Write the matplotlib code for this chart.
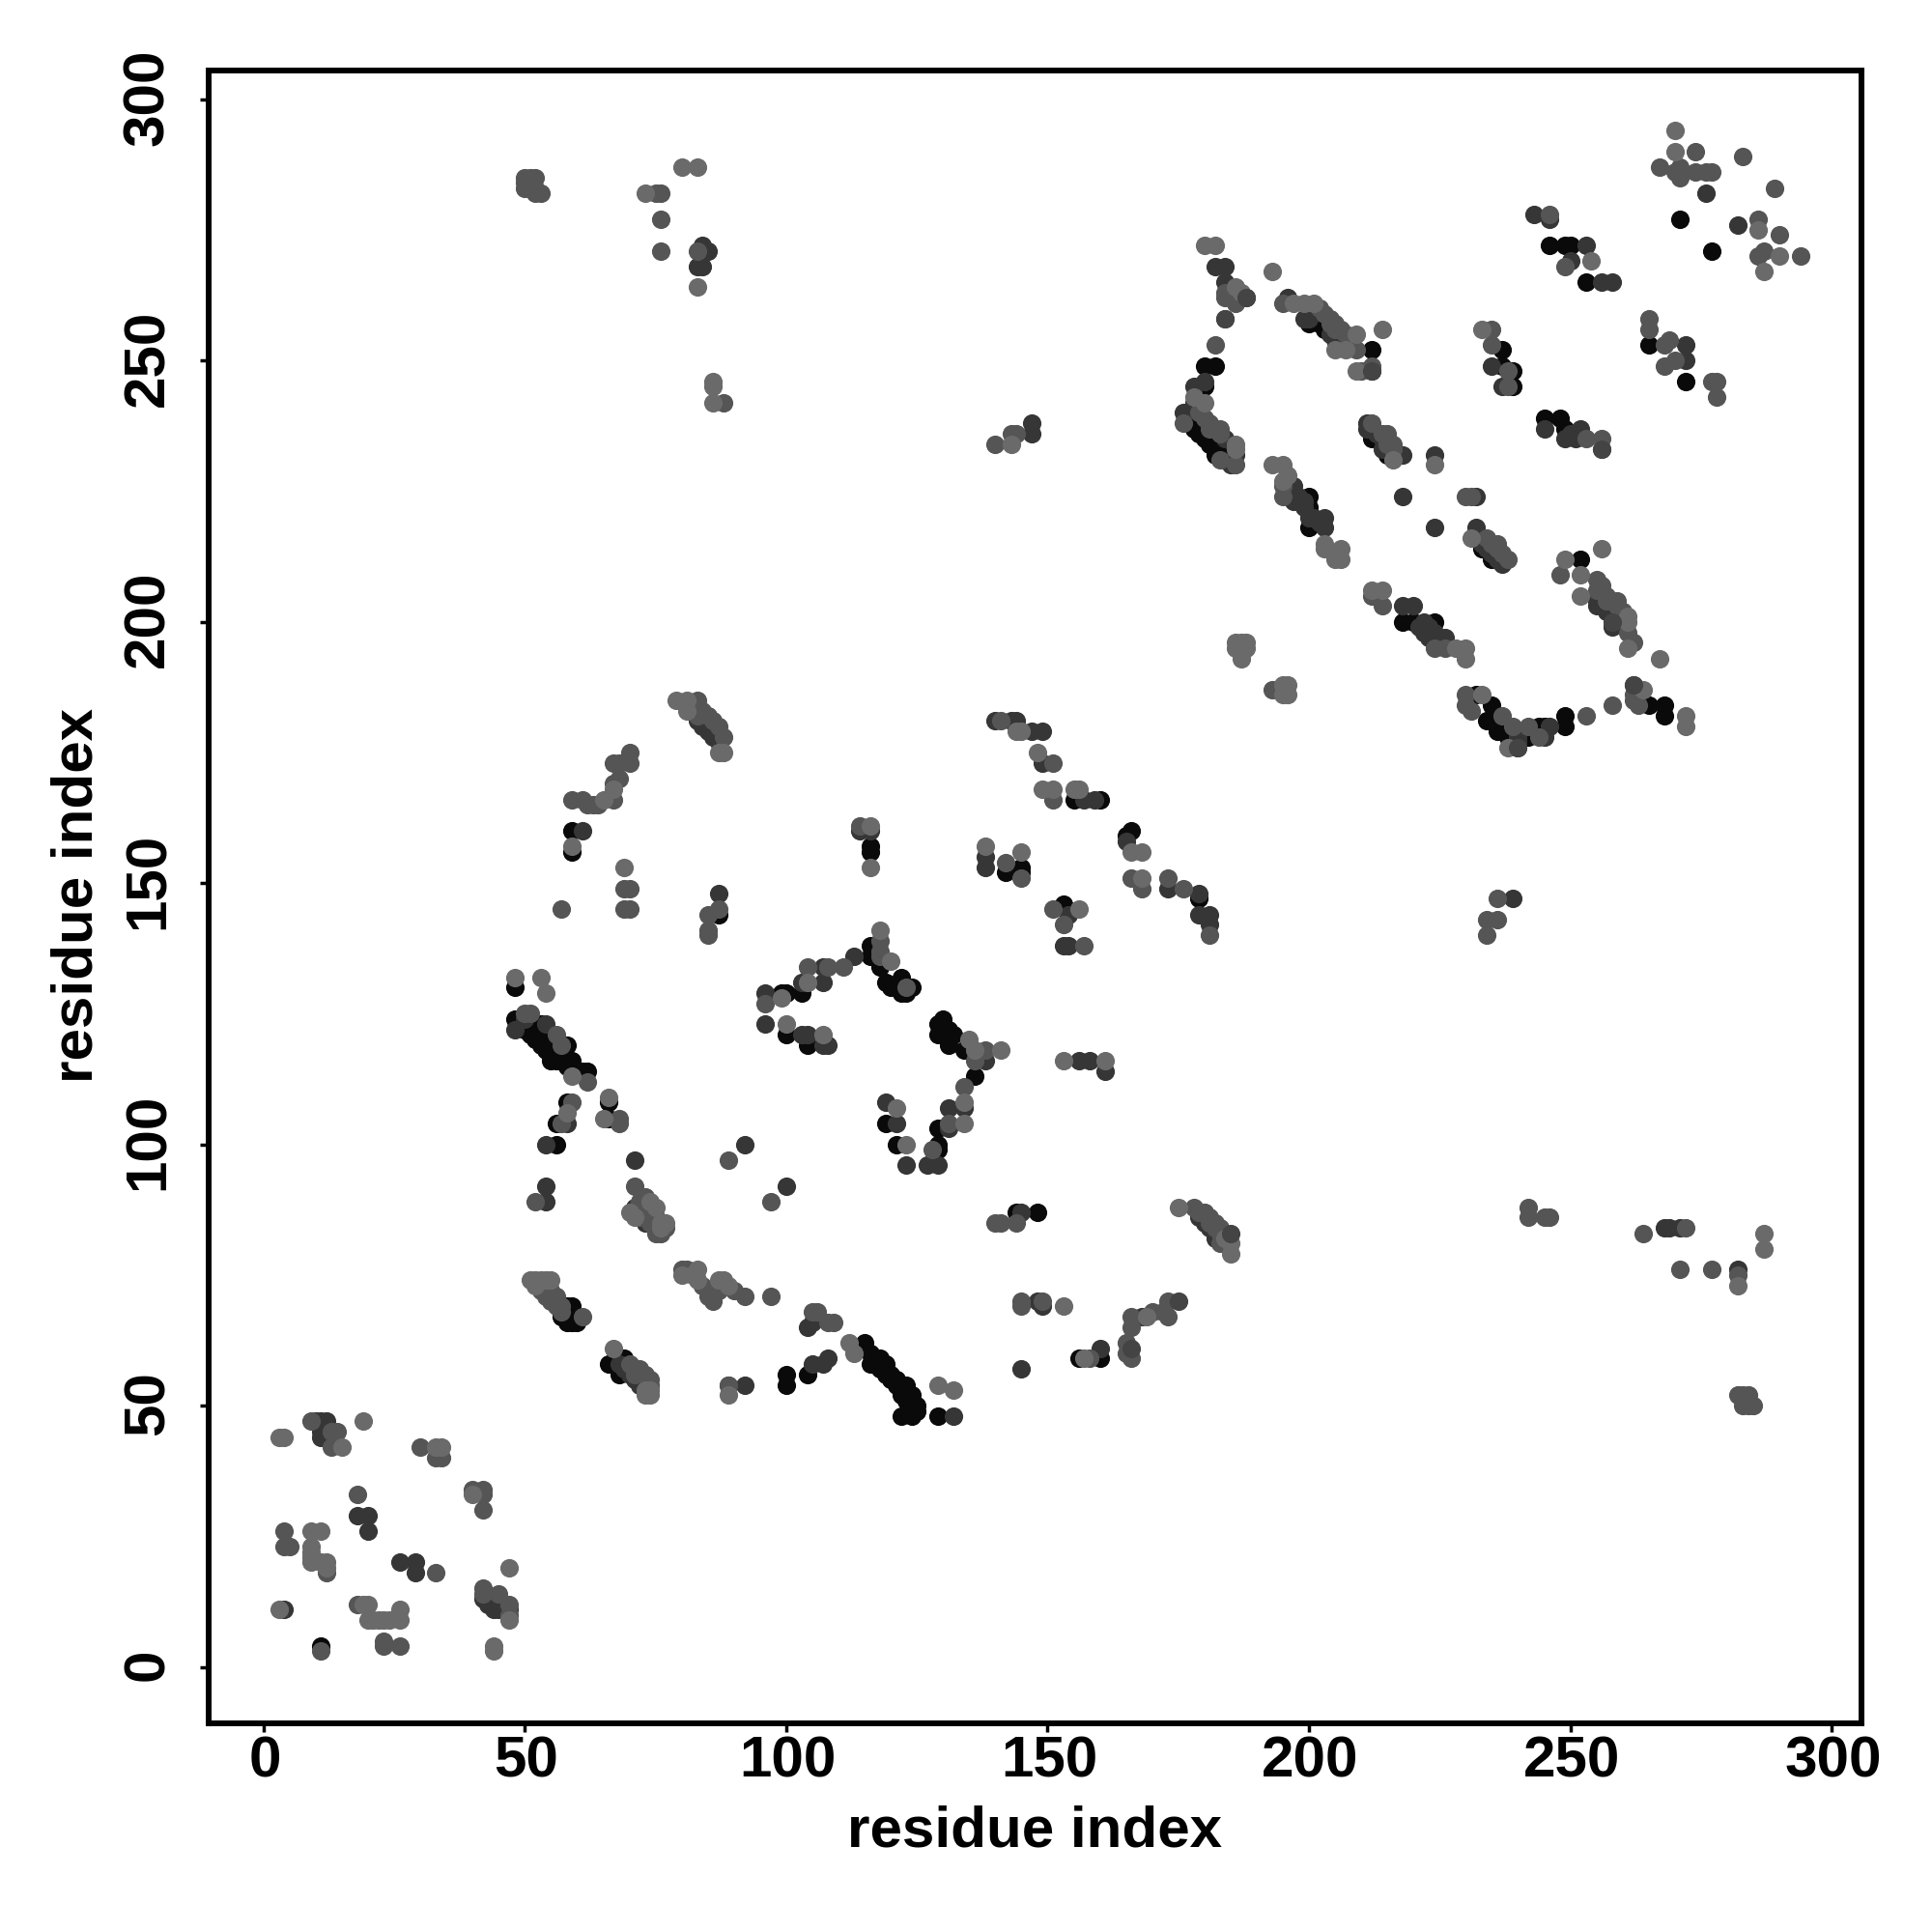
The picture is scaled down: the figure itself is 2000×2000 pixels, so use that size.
import numpy as np
import matplotlib
matplotlib.use("Agg")
import matplotlib.pyplot as plt
from matplotlib.transforms import ScaledTranslation

plt.rcParams['font.family'] = ['Liberation Sans', 'DejaVu Sans']

# contacts, one list per grey level
contacts_black = [
    (11,4),(66,58),(69,59),(68,56),(58,69),(59,69),(57,67),(58,66),(59,66),(60,66),
    (115,62),(116,60),(116,58),(117,59),(118,57),(118,59),(119,58),(119,56),(120,56),(120,55),(121,55),(121,54),(122,54),(122,53),(122,52),(123,54),(123,51),(124,52),(124,50),(125,50),(125,49),(122,48),(124,48),
    (129,48),(100,56),(100,54),(104,56),(48,130),(59,160),(59,156),(87,144),(48,124),(49,124),(50,122),(51,121),(52,122),(52,120),(53,123),(53,120),(53,119),(54,121),(54,118),(55,120),(55,117),(55,116),(56,119),(56,116),
    (57,118),(57,116),(58,115),(58,119),(59,116),(61,114),(62,114),(58,108),(56,104),(56,100),(66,108),(66,105),(99,129),(100,129),(103,129),
    (116,138),(116,136),(118,134),(119,131),(122,132),(120,130),(122,129),(124,130),(123,129),(100,121),(104,119),
    (130,124),(129,123),(129,121),(131,122),(131,119),(132,121),(134,118),(136,113),(129,103),(129,100),(129,99),(119,104),(121,100),
    (116,157),(116,156),(142,152),(145,152),(145,153),(180,249),(182,249),(180,245),(177,238),(178,238),(178,237),(179,236),(180,235),(181,234),(182,233),(182,232),(183,232),(184,231),
    (200,257),(201,258),(202,259),(202,257),(203,256),(212,252),(237,252),(237,249),(239,248),(239,245),(246,272),(249,272),(250,272),(253,265),(265,253),
    (245,239),(248,239),(249,237),(212,235),(215,232),(233,214),(235,212),(200,224),(200,222),(200,221),(200,218),(218,200),(220,200),(224,200),
    (235,184),(234,181),(236,179),(238,178),(242,178),(244,180),(249,182),(249,180),(252,212),(271,277),(277,271),(272,246),(155,166),(160,166),(165,159),(166,160),
    (179,147),(153,146),(148,87),(144,87),(156,59),(160,59),(265,184),(268,184),(268,182),(232,186),(245,180),
]
contacts_dark = [
    (10,47),(11,47),(12,47),(11,45),(11,44),(12,44),(18,29),(20,29),(20,26),(26,20),(29,20),(29,18),(42,13),(43,12),(44,13),(44,11),(45,11),(47,11),
    (4,11),(54,92),(54,89),(71,97),(71,88),(73,85),(72,55),(73,54),(68,58),(69,57),(70,56),(71,55),(72,54),(89,54),(92,54),(105,58),(104,65),(105,66),(107,58),(108,59),(132,48),(145,57),
    (160,61),(54,123),(61,160),(87,148),(48,122),(50,124),(58,104),(54,100),(92,100),(100,92),(96,129),(103,131),(107,131),
    (107,134),(113,136),(96,123),(104,121),(103,121),(108,119),(107,119),(138,116),(131,107),(134,107),(131,103),(129,96),(127,96),(123,96),
    (83,181),(84,180),(85,179),(86,178),(87,177),
    (119,108),(121,104),(114,160),(116,160),(138,155),(138,153),(140,181),(143,181),(144,181),(182,268),(184,268),(184,265),(178,245),
    (180,246),(178,242),(176,240),(184,235),(186,232),(185,230),(188,262),(196,262),(199,258),(200,258),(204,255),(205,254),(206,254),(212,248),
    (235,249),(237,245),(250,269),(253,272),(256,265),(258,265),(245,237),(249,235),(252,237),(251,235),(250,236),(211,238),(211,237),(212,237),(213,236),(214,235),
    (214,233),(218,232),(224,232),(218,224),(232,224),(224,218),(232,218),(232,216),(233,215),(234,214),(235,213),(236,212),(237,211),(197,226),(197,223),(198,224),(199,223),(199,222),(200,220),(201,220),(202,219),
    (203,220),(203,218),(218,203),(220,203),(221,199),(222,200),(222,198),(223,199),(223,197),(224,198),(224,196),(225,197),(225,196),(226,197),(240,178),(240,176),(240,177),(245,178),(246,180),(262,188),
    (255,204),(256,203),(257,202),(258,201),(259,200),(258,199),(255,203),(258,200),
    (276,282),(282,276),(243,278),(246,277),(272,253),(272,250),(84,272),(83,268),(84,268),(85,271),(147,236),(147,238),
    (147,179),(149,179),(149,173),(157,166),(159,166),(165,158),(173,149),(179,148),(179,144),(181,144),(181,142),(154,144),(153,138),(154,138),
    (156,116),(158,116),(161,114),(239,147),(268,84),(269,84),(271,84),(282,76),(145,87),(182,82),(179,86),(180,85),(181,84),(182,83),(183,82),(149,69),(148,70),(168,67),
]
contacts_mid = [
    (9,47),(14,45),(13,45),(13,42),(30,42),(33,40),(34,40),(18,33),(42,30),(40,34),(42,34),(42,33),(4,26),(4,23),(5,23),(12,18),(33,18),
    (42,15),(42,14),(45,14),(47,12),(47,10),(18,12),(23,5),(23,4),(26,4),(11,3),(52,89),(71,92),(73,90),(72,86),(73,88),(73,87),(74,86),(74,85),(75,85),(75,84),(72,87),(72,89),(74,87),(75,86),
    (75,83),(76,83),(77,84),(53,73),(54,72),(55,71),(55,70),(56,69),(57,69),(57,68),(53,72),(54,71),(55,72),(56,71),(56,70),(61,67),(70,58),(71,56),(73,56),(74,54),(71,57),(72,57),(74,55),(89,97),(97,89),
    (80,76),(81,76),(84,73),(85,72),(85,71),(86,70),(87,72),(90,72),(92,71),(105,68),(106,68),(108,66),(109,66),(97,71),(89,54),
    (83,185),(83,182),(84,183),(85,182),(86,181),(87,180),(88,178),(70,175),(70,173),(67,173),(68,173),(68,170),(67,169),(67,166),(59,166),
    (61,166),(62,165),(63,165),(64,165),(69,149),(70,149),(69,145),(70,145),(57,145),(87,145),(85,144),(85,141),(85,140),(50,125),(51,125),
    (56,121),(57,119),(62,112),(59,108),(57,104),(68,105),(68,104),(96,127),(104,134),(108,134),(111,134),(118,139),(118,137),(118,136),
    (123,130),(138,118),(136,116),(134,111),(131,104),(128,99),(114,161),(142,154),(141,181),(184,263),(184,262),(186,261),(184,258),(182,253),
    (176,238),(179,240),(180,239),(181,238),(181,237),(182,237),(183,237),(183,236),(183,231),(186,230),(195,261),(202,260),(203,259),(204,258),(204,257),(205,257),(205,256),(206,256),(207,255),(208,254),(209,252),(210,248),(212,249),
    (235,256),(235,253),(238,248),(238,245),(249,268),(253,235),(256,235),(212,238),(214,236),(215,236),(215,234),(216,234),(216,233),(195,226),(195,224),
    (230,224),(231,224),(234,216),(235,215),(236,215),(236,214),(237,213),(238,212),(214,203),(212,205),(224,195),(226,195),(193,187),(230,186),(230,184),(231,183),
    (237,182),(239,180),(242,180),(244,178),(253,182),(258,184),(262,185),(263,184),(262,186),(248,209),(255,208),(256,207),(255,206),(257,205),(257,204),(258,204),(259,204),(259,203),(260,202),(261,198),(262,196),(267,287),
    (274,290),(271,287),(271,285),(270,286),(274,286),(276,286),(277,286),(283,289),(289,283),(286,277),(290,274),(286,270),(287,271),(294,270),
    (246,278),(265,258),(265,256),(268,249),(269,254),(268,253),(270,250),(277,246),(278,246),(278,243),
    (50,285),(51,285),(52,285),(50,284),(51,284),(52,283),(50,283),(53,282),(52,282),(75,282),(76,282),(76,277),(76,271),(83,271),(88,242),
    (140,234),(143,236),(144,236),(151,173),(151,166),(168,149),(166,151),(173,151),(176,149),(181,140),(145,151),(151,145),(153,142),(157,138),
    (234,140),(234,143),(236,143),(236,147),(242,88),(242,86),(245,86),(246,86),(264,83),(272,84),(271,76),(277,76),(282,75),
    (282,52),(283,52),(284,52),(283,50),(284,50),(285,50),(284,51),(140,85),(141,85),(144,85),(178,88),(180,87),(181,86),(182,85),(183,84),(184,83),(179,87),(181,85),(182,84),(183,83),(183,81),
    (158,59),(165,62),(165,60),(166,59),(166,65),(166,67),(145,70),(145,69),(149,70),(170,68),(172,68),(173,67),(173,70),
]
contacts_light = [
    (3,44),(4,44),(19,47),(15,42),(34,42),(33,42),(40,33),(9,26),(11,26),(9,23),(9,22),(9,21),(9,20),(11,20),(12,20),(12,19),(47,19),(47,9),
    (3,11),(19,12),(20,12),(20,9),(21,9),(22,9),(23,9),(24,9),(26,11),(26,9),(44,4),(44,3),(70,87),(71,86),(74,89),(75,88),(76,85),(76,84),(77,85),
    (51,74),(52,74),(53,74),(54,74),(55,74),(52,73),(67,61),(73,53),(74,53),(73,52),(74,52),(89,52),(80,75),(82,75),(83,76),(83,74),(87,74),(88,74),(89,73),
    (112,62),(113,60),(129,54),(132,53),(153,69),
    (79,185),(81,185),(81,183),(87,175),(88,175),(67,168),(65,166),(59,157),(69,153),(48,132),(53,132),(54,129),(59,113),(58,106),(66,109),(65,105),
    (99,128),(100,123),(107,121),(104,131),(118,141),(120,135),(135,120),(136,118),(141,118),(134,108),(134,104),(121,107),(123,100),
    (116,161),(116,153),(138,157),(145,156),(144,179),(145,179),(180,272),(182,272),(186,264),(187,263),(193,267),(180,242),(178,243),
    (186,234),(186,233),(196,228),(197,261),(199,261),(201,261),(209,255),(205,252),(207,252),(214,256),(209,248),(233,256),(254,269),(256,233),
    (216,231),(224,230),(231,216),(193,230),(195,230),(195,227),(206,214),(206,212),(205,212),(203,214),(203,215),
    (212,206),(214,206),(228,195),(230,195),(230,193),(186,196),(187,196),(188,196),(186,195),(188,195),(187,194),(187,193),
    (195,188),(196,188),(195,186),(196,186),(233,186),(238,176),(264,187),(267,193),(272,182),(272,180),(249,212),(256,214),(252,209),(252,205),(261,201),(261,200),(261,195),
    (270,294),(270,290),(286,275),(290,270),(287,267),(73,282),(80,287),(83,287),(83,264),(86,246),(86,245),(86,242),(143,234),
    (148,175),(149,168),(151,168),(155,168),(156,168),(168,156),(166,156),(168,151),(156,145),(153,116),(161,116),(287,83),(287,80),(282,73),(175,88),(184,82),(185,81),(185,79),(157,59),(169,67),
]
# dark points that sit above the lighter ones
contacts_over = [(185,83),(175,70),(166,61),(262,188),(240,176),(184,258),(188,262),(258,200),(212,248),(256,233)]
tick_values = [0, 50, 100, 150, 200, 250, 300]
axis_label = 'residue index'

fig = plt.figure(figsize=(20, 20), dpi=100)
ax = fig.add_axes([216/2000, 1-1783.5/2000, (1927-216)/2000, (1783.5-73)/2000])

# draw darkest first, the lighter points sit on top
layers = [(contacts_black, '#0a0a0a'), (contacts_dark, '#363636'), (contacts_mid, '#555555'),
          (contacts_light, '#6a6a6a'), (contacts_over, '#444444')]
for pts, col in layers:
    arr = np.array(pts)
    ax.scatter(arr[:, 0], arr[:, 1], s=190, color=col, linewidths=0)

ax.set_xlim(-10.5, 305.7)
ax.set_ylim(-10.7, 305.5)
ax.set_xticks(tick_values)
ax.set_yticks(tick_values)
ax.tick_params(length=6.3, width=2.5, labelsize=43.3)
ax.tick_params(axis='x', pad=3)
ax.tick_params(axis='y', pad=18.7)
for lab in ax.get_xticklabels() + ax.get_yticklabels():
    lab.set_fontweight('bold')
for lab in ax.get_xticklabels():
    lab.set_transform(lab.get_transform() + ScaledTranslation(1.5/100, 0, fig.dpi_scale_trans))
for lab in ax.get_yticklabels():
    lab.set_rotation(90)
    lab.set_va('center')
    lab.set_transform(lab.get_transform() + ScaledTranslation(0, 2.5/100, fig.dpi_scale_trans))
for s in ax.spines.values():
    s.set_linewidth(4.3)

fig.text(1071/2000, 1-1896/2000, axis_label, fontsize=43.3, fontweight='bold', ha='center', va='center')
fig.text(80/2000, 1-927/2000, axis_label, fontsize=43.3, fontweight='bold', ha='center', va='center', rotation=90)

fig.savefig('out.png', dpi=100, facecolor='white')
